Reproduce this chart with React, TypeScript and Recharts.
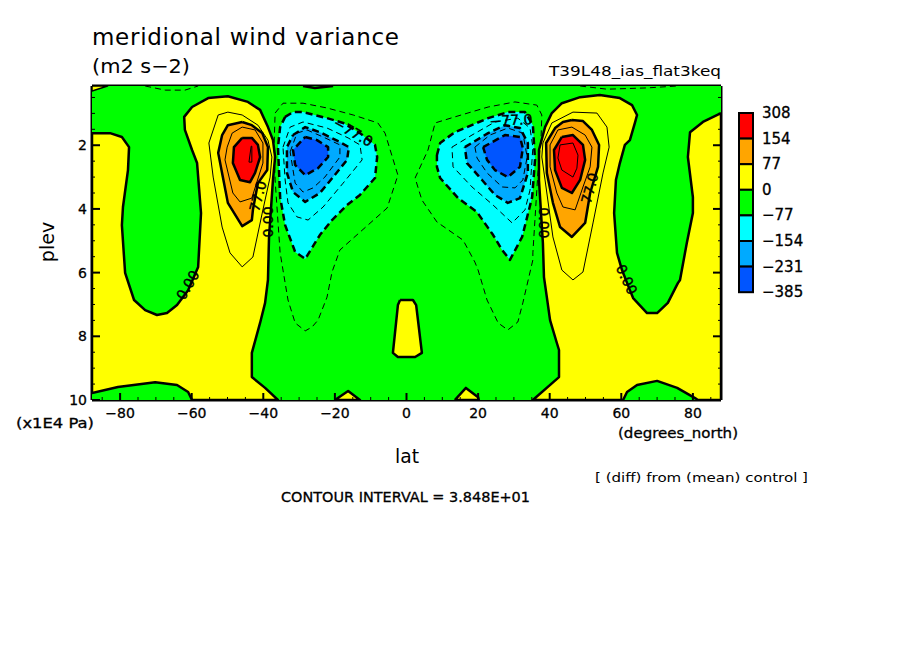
import React from "react";
import { ComposedChart, ReferenceDot, Scatter, XAxis, YAxis } from "recharts";

type Pair = [number, number];

const RED = "#ff0000";
const ORANGE = "#ffa500";
const YELLOW = "#ffff00";
const GREEN = "#00ff00";
const CYAN = "#00ffff";
const AZURE = "#00aaff";
const BLUE = "#0055ff";

const latDomain: Pair = [-87.85, 87.85];
const plevDomain: Pair = [0.14, 10];
const latTicks = [-85, -80, -75, -70, -65, -60, -55, -50, -45, -40, -35, -30, -25, -20, -15, -10, -5, 0, 5, 10, 15, 20, 25, 30, 35, 40, 45, 50, 55, 60, 65, 70, 75, 80, 85];
const plevTicks = [0.5, 1, 1.5, 2, 2.5, 3, 3.5, 4, 4.5, 5, 5.5, 6, 6.5, 7, 7.5, 8, 8.5, 9, 9.5];

const legendColors = [RED, ORANGE, YELLOW, GREEN, CYAN, AZURE, BLUE];
const legendLabels = ["308", "154", "77", "0", "−77", "−154", "−231", "−385"];

// filled regions, lat / plev pairs
const yellowWest: Pair[] = [[-87.85, 1.62], [-82.8, 1.62], [-79.5, 1.74], [-77.5, 2.06], [-77.8, 2.78], [-79.2, 3.94], [-79.5, 4.51], [-78.6, 6.01], [-76.1, 6.86], [-73, 7.18], [-69.7, 7.33], [-66.9, 7.27], [-64.1, 7.02], [-61, 6.55], [-58.2, 5.82], [-57.4, 4.13], [-58.5, 2.56], [-59.9, 2.15], [-61.9, 1.52], [-62.1, 1.11], [-59.9, 0.8], [-55.4, 0.52], [-49.9, 0.46], [-44.3, 0.64], [-40.9, 0.89], [-38.7, 1.43], [-37.3, 1.84], [-36.7, 2.37], [-37.3, 3.09], [-38.4, 4.88], [-38.7, 6.23], [-39.5, 6.95], [-40.9, 7.58], [-43.2, 8.52], [-43.2, 9.28], [-39.5, 9.62], [-35.9, 10], [-59.9, 10], [-61, 9.75], [-64.1, 9.53], [-70.2, 9.44], [-80.6, 9.59], [-87.85, 9.78]];
const yellowEast: Pair[] = [[87.85, 0.99], [82.8, 1.27], [79.2, 1.59], [78.6, 2.37], [80, 3.63], [80, 4.13], [78.3, 5.07], [76.4, 6.23], [75.8, 6.33], [73, 6.95], [70, 7.27], [67.2, 7.27], [63.3, 6.8], [62.4, 6.55], [60.2, 5.92], [58.8, 5.38], [58, 4.13], [58.5, 3.09], [59.6, 2.56], [61, 1.99], [62.4, 1.84], [63.8, 1.3], [64.4, 1.05], [63, 0.74], [59.6, 0.52], [54, 0.42], [48.5, 0.49], [43.4, 0.68], [40.6, 0.99], [38.7, 1.43], [37, 2.15], [37, 3.09], [38.1, 5.07], [38.4, 6.14], [39.2, 6.77], [40.1, 7.49], [42, 8.21], [42.6, 8.43], [42.6, 9.28], [35.3, 10], [60.5, 10], [61.6, 9.75], [64.4, 9.53], [70, 9.4], [75.6, 9.62], [80.6, 9.94], [81.4, 10], [87.85, 10]];
const yellowCorner: Pair[] = [[-87.85, 0.14], [-83.5, 0.14], [-87.85, 0.3]];
const yellowCentre: Pair[] = [[-1.8, 6.86], [1.8, 6.86], [2.7, 7.02], [4.3, 8.52], [2.4, 8.65], [-2.4, 8.65], [-3.8, 8.52], [-2.4, 7.02]];
const yellowSpikeWest: Pair[] = [[-20, 10], [-16.3, 9.72], [-13, 10]];
const yellowSpikeEast: Pair[] = [[13.5, 10], [16.6, 9.62], [20, 9.91], [20.2, 10]];

const orangeWest: Pair[] = [[-45.9, 1.27], [-49.9, 1.37], [-51.5, 1.68], [-52.6, 2.24], [-51.3, 3], [-49.9, 3.81], [-45.9, 4.54], [-43.2, 4.35], [-42.9, 4.03], [-41.5, 3.19], [-38.9, 2.78], [-38.7, 2.06], [-40.3, 1.62], [-43.2, 1.37]];
const orangeEast: Pair[] = [[46.2, 1.21], [49.3, 1.24], [51.8, 1.52], [53.8, 1.99], [53.5, 2.68], [51.3, 3.5], [49.9, 4.44], [46.2, 4.88], [42.9, 4.57], [40.9, 3.81], [39.2, 2.87], [39, 1.93], [41.5, 1.46], [43.7, 1.27]];
const redWest: Pair[] = [[-45.9, 1.77], [-43.2, 1.77], [-41.5, 1.99], [-40.9, 2.37], [-42.3, 2.87], [-43.7, 3.16], [-46.5, 3.09], [-48.5, 2.56], [-48.2, 2.06]];
const redEast: Pair[] = [[43.4, 1.74], [46.5, 1.68], [49.3, 1.99], [49.9, 2.46], [48.5, 3.09], [46.2, 3.5], [43.4, 3.34], [41.5, 2.78], [41.2, 2.15]];

const cyanWest: Pair[] = [[-33.9, 1.11], [-31.7, 0.96], [-28.9, 0.96], [-22.2, 1.15], [-17.7, 1.3], [-13, 1.62], [-8.8, 1.99], [-8.2, 2.37], [-8.8, 3.03], [-13, 3.56], [-16.6, 3.88], [-20.8, 4.35], [-24.2, 4.82], [-28.3, 5.57], [-31.1, 5.35], [-33.9, 4.51], [-35.3, 3.63], [-35.9, 2.06], [-35.3, 1.43]];
const cyanEast: Pair[] = [[8.5, 2.31], [9.4, 1.93], [13.5, 1.59], [22.8, 1.15], [28.3, 0.96], [33.1, 0.96], [35.3, 1.37], [35.9, 2.46], [35.1, 3.63], [32.3, 4.88], [28.9, 5.6], [26.7, 5.29], [24.2, 4.82], [19.7, 4.1], [14.4, 3.66], [9.4, 3.03], [8.5, 2.68]];
const azureWest: Pair[] = [[-31.7, 1.68], [-28.3, 1.43], [-24.2, 1.59], [-18.6, 1.9], [-16.1, 2.06], [-16.6, 2.46], [-20.5, 3], [-24.2, 3.5], [-28.3, 3.78], [-31.7, 3.47], [-33.4, 2.87], [-33.4, 2.06]];
const azureEast: Pair[] = [[16.3, 2.06], [22.8, 1.62], [27.5, 1.37], [31.7, 1.46], [33.9, 1.93], [33.9, 2.87], [31.7, 3.66], [28.3, 3.81], [24.7, 3.56], [21.1, 3.09], [16.9, 2.56]];
const blueWest: Pair[] = [[-28.3, 1.74], [-25, 1.84], [-21.9, 2.06], [-21.9, 2.37], [-24.7, 2.72], [-28.3, 2.94], [-31.1, 2.62], [-31.7, 2.15]];
const blueEast: Pair[] = [[21.4, 2.06], [27.5, 1.68], [31.7, 1.74], [32.5, 2.09], [31.7, 2.68], [28.3, 3], [24.7, 2.78], [22.5, 2.46]];

// thin in-between contours
const thinPosWest: Pair[][] = [
  [[-55.2, 1.93], [-52.6, 1.05], [-49.9, 0.96], [-45.9, 1.05], [-41.5, 1.37], [-38.7, 1.84], [-37.6, 2.37], [-38.1, 3], [-40.3, 4.13], [-42.9, 5.51], [-45.9, 5.82], [-49.3, 5.38], [-51.5, 4.57], [-54, 3]],
  [[-50.1, 2.06], [-48.7, 1.62], [-45.9, 1.43], [-42.3, 1.52], [-40.1, 1.93], [-40.1, 2.56], [-41.8, 3.16], [-43.2, 3.66], [-46.5, 3.78], [-48.5, 3.5], [-50.7, 2.46]],
  [[-43.4, 2.03], [-43.2, 2.03], [-43.2, 2.53], [-44, 2.53]],
];
const thinPosEast: Pair[][] = [
  [[38.1, 1.93], [40.6, 1.3], [46.5, 0.96], [53.2, 0.99], [56, 1.43], [56.6, 2.06], [54.9, 2.87], [52.1, 4.44], [49.3, 5.98], [46.5, 6.23], [43.4, 5.92], [40.9, 4.88], [38.7, 3.09], [37.8, 2.37]],
  [[40.1, 1.99], [42.3, 1.52], [46.2, 1.43], [49.9, 1.68], [51.8, 2.06], [51.3, 2.68], [49.3, 3.31], [47.1, 4.03], [43.7, 3.94], [42, 3.5], [40.1, 2.68]],
  [[42.9, 1.99], [46.5, 1.93], [47.9, 2.31], [47.6, 2.72], [46.5, 3], [43.4, 2.78], [42.3, 2.4]],
];
const thinNegWest: Pair[][] = [
  [[-36.7, 0.99], [-34.5, 0.68], [-28.9, 0.68], [-22.2, 0.83], [-14.9, 1.05], [-8, 1.3], [-6, 1.62], [-2.4, 2.94], [-5.4, 3.97], [-13, 4.73], [-18.6, 5.29], [-20.8, 5.98], [-22.2, 6.77], [-24.7, 7.49], [-26.4, 7.71], [-28.3, 7.83], [-31.1, 7.58], [-33.1, 6.86], [-34.5, 5.92], [-35.3, 5.38], [-36.7, 3.09], [-37, 2.06]],
  [[-34.5, 2.06], [-32.5, 1.43], [-28.9, 1.27], [-22.2, 1.46], [-16.3, 1.77], [-13, 1.99], [-12.4, 2.46], [-17.7, 3.19], [-23.3, 3.94], [-27.5, 4.35], [-30.6, 4.25], [-33.1, 3.81], [-33.9, 3.09]],
  [[-32.5, 2.21], [-30.6, 1.62], [-27.8, 1.52], [-23.3, 1.74], [-18.6, 1.99], [-18.6, 2.37], [-22.8, 3], [-26.1, 3.34], [-28.9, 3.47], [-31.1, 3.19]],
];
const thinNegEast: Pair[][] = [
  [[2.4, 3.03], [6, 2.15], [8, 1.3], [13.5, 1.11], [22.8, 0.8], [30.3, 0.64], [36.4, 0.74], [37.8, 1.05], [37.6, 1.74], [36.7, 2.87], [35.3, 5.38], [35.3, 5.6], [32.5, 6.95], [31.1, 7.55], [28.3, 7.8], [25.6, 7.58], [22.5, 6.86], [20, 5.92], [19.1, 5.67], [15.8, 4.98], [8.5, 4.41], [4.3, 3.72]],
  [[12.7, 2.06], [18.3, 1.68], [24.7, 1.27], [31.1, 1.15], [34.5, 1.46], [35.3, 2.06], [34.5, 3.41], [33.1, 4.03], [29.5, 4.44], [24.2, 3.88], [18.3, 3.31], [13, 2.68]],
  [[19.1, 2.06], [23.3, 1.68], [28.3, 1.46], [32.5, 1.62], [33.7, 2.37], [32.5, 3.09], [30.3, 3.34], [26.7, 3.31], [22.5, 2.87], [19.7, 2.4]],
];
const topDashWest: Pair[] = [[-73, 0.14], [-67.4, 0.27], [-61.9, 0.27], [-58.2, 0.14]];
const topDashEast: Pair[] = [[48.5, 0.14], [56, 0.24], [67.2, 0.2], [75.6, 0.14]];
const topThick: Pair[] = [[-28.9, 0.14], [-25.6, 0.2], [-20.5, 0.14]];

const contourLabels: { lat: number; plev: number; text: string; angle: number }[] = [
  { lat: -61.1, plev: 6.39, text: "0.00", angle: -60 },
  { lat: -38.7, plev: 4.41, text: "0.00", angle: -90 },
  { lat: -41.5, plev: 3.6, text: "77.0", angle: -75 },
  { lat: -14.9, plev: 1.59, text: "−77.0", angle: 30 },
  { lat: 29.2, plev: 1.21, text: "−77.0", angle: -3 },
  { lat: 51.2, plev: 3.35, text: "77.0", angle: -75 },
  { lat: 38.4, plev: 4.44, text: "0.00", angle: 90 },
  { lat: 61.5, plev: 6.22, text: "0.00", angle: 65 },
];

const FONT = "'DejaVu Sans', sans-serif";

const closed = (pairs: Pair[]) => [...pairs, pairs[0]].map(([lat, plev]) => ({ lat, plev }));

const hidden = () => <g />;

function contour(key: string, pairs: Pair[], opts: { fill?: string; width?: number; dash?: string; open?: boolean }) {
  const data = opts.open ? pairs.map(([lat, plev]) => ({ lat, plev })) : closed(pairs);
  return (
    <Scatter
      key={key}
      data={data}
      dataKey="plev"
      shape={hidden}
      isAnimationActive={false}
      line={{
        fill: opts.fill ?? "none",
        stroke: "#000",
        strokeWidth: opts.width ?? 1,
        strokeDasharray: opts.dash,
        strokeLinejoin: "round",
      }}
    />
  );
}

const latTick = (labelled: boolean) => (props: any) => {
  const { x, y, payload } = props;
  const major = payload.value % 20 === 0;
  const dir = labelled ? -1 : 1;
  return (
    <g>
      <line x1={x} x2={x} y1={y} y2={y + dir * (major ? 7 : 3)} stroke="#000" strokeWidth={major ? 2 : 1} />
      {labelled && major && (
        <text x={x} y={y + 18} textAnchor="middle" fontSize={14} fontFamily={FONT} fill="#000" stroke="#000" strokeWidth={0.3}>
          {String(payload.value).replace("-", "−")}
        </text>
      )}
    </g>
  );
};

const plevTick = (labelled: boolean) => (props: any) => {
  const { x, y, payload } = props;
  const major = payload.value % 2 === 0;
  const dir = labelled ? 1 : -1;
  return (
    <g>
      <line x1={x} x2={x + dir * (major ? 8 : 3)} y1={y} y2={y} stroke="#000" strokeWidth={major ? 2 : 1} />
      {labelled && major && (
        <text x={x - 5} y={y + 5} textAnchor="end" fontSize={14} fontFamily={FONT} fill="#000" stroke="#000" strokeWidth={0.3}>
          {payload.value}
        </text>
      )}
    </g>
  );
};

const contourText = (text: string, angle: number) => (props: any) => (
  <text
    x={props.cx}
    y={props.cy}
    transform={`rotate(${angle} ${props.cx} ${props.cy})`}
    textAnchor="middle"
    dominantBaseline="central"
    fontSize={14}
    fontFamily={FONT}
    fill="#000"
    stroke="#000"
    strokeWidth={0.4}
  >
    {text}
  </text>
);

const axisLine = { stroke: "#000", strokeWidth: 3 };

export default function App() {
  return (
    <div style={{ position: "absolute", left: 0, top: 0, width: 904, height: 654, background: "#fff" }}>
      <ComposedChart width={904} height={654} margin={{ top: 85, right: 182, bottom: 253, left: 91 }}>
        {contour("bg", [[latDomain[0], plevDomain[0]], [latDomain[1], plevDomain[0]], [latDomain[1], plevDomain[1]], [latDomain[0], plevDomain[1]]], { fill: GREEN, width: 0 })}
        {contour("yw", yellowWest, { fill: YELLOW, width: 2.5 })}
        {contour("ye", yellowEast, { fill: YELLOW, width: 2.5 })}
        {contour("yk", yellowCorner, { fill: YELLOW, width: 1.5 })}
        {contour("yc", yellowCentre, { fill: YELLOW, width: 2.5 })}
        {contour("ysw", yellowSpikeWest, { fill: YELLOW, width: 2.5 })}
        {contour("yse", yellowSpikeEast, { fill: YELLOW, width: 2.5 })}
        {contour("ow", orangeWest, { fill: ORANGE, width: 2.5 })}
        {contour("oe", orangeEast, { fill: ORANGE, width: 2.5 })}
        {contour("rw", redWest, { fill: RED, width: 2.5 })}
        {contour("re", redEast, { fill: RED, width: 2.5 })}
        {contour("cw", cyanWest, { fill: CYAN, width: 2.5, dash: "7 4" })}
        {contour("ce", cyanEast, { fill: CYAN, width: 2.5, dash: "7 4" })}
        {contour("aw", azureWest, { fill: AZURE, width: 2.5, dash: "7 4" })}
        {contour("ae", azureEast, { fill: AZURE, width: 2.5, dash: "7 4" })}
        {contour("bw", blueWest, { fill: BLUE, width: 2.5, dash: "7 4" })}
        {contour("be", blueEast, { fill: BLUE, width: 2.5, dash: "7 4" })}
        {thinPosWest.map((p, i) => contour(`tpw${i}`, p, {}))}
        {thinPosEast.map((p, i) => contour(`tpe${i}`, p, {}))}
        {thinNegWest.map((p, i) => contour(`tnw${i}`, p, { dash: "6 4" }))}
        {thinNegEast.map((p, i) => contour(`tne${i}`, p, { dash: "6 4" }))}
        {contour("tdw", topDashWest, { dash: "6 4", open: true })}
        {contour("tde", topDashEast, { dash: "6 4", open: true })}
        {contour("tt", topThick, { width: 2.5, open: true })}

        {contourLabels.map((l, i) => (
          <ReferenceDot key={i} x={l.lat} y={l.plev} r={3} ifOverflow="visible" shape={contourText(l.text, l.angle)} />
        ))}

        <XAxis xAxisId={0} dataKey="lat" type="number" domain={latDomain} ticks={latTicks} interval={0} allowDataOverflow height={1} tickSize={0} tickMargin={0} tickLine={false} axisLine={axisLine} tick={latTick(true)} />
        <XAxis xAxisId="top" orientation="top" type="number" domain={latDomain} ticks={latTicks} interval={0} allowDataOverflow height={1} tickSize={0} tickMargin={0} tickLine={false} axisLine={axisLine} tick={latTick(false)} />
        <YAxis yAxisId={0} dataKey="plev" type="number" domain={plevDomain} reversed ticks={[...plevTicks, 10]} interval={0} allowDataOverflow width={1} tickSize={0} tickMargin={0} tickLine={false} axisLine={axisLine} tick={plevTick(true)} />
        <YAxis yAxisId="right" orientation="right" type="number" domain={plevDomain} reversed ticks={plevTicks} interval={0} allowDataOverflow width={1} tickSize={0} tickMargin={0} tickLine={false} axisLine={axisLine} tick={plevTick(false)} />
      </ComposedChart>

      <svg width={904} height={654} style={{ position: "absolute", left: 0, top: 0, pointerEvents: "none" }} fontFamily={FONT} fill="#000">
        <text x={92} y={45} fontSize={23} textLength={307} lengthAdjust="spacing">meridional wind variance</text>
        <text x={92} y={73} fontSize={20} textLength={98} lengthAdjust="spacingAndGlyphs">(m2 s−2)</text>
        <text x={549} y={76} fontSize={14} textLength={172} lengthAdjust="spacingAndGlyphs">T39L48_ias_flat3keq</text>
        <text x={16} y={428} fontSize={14} textLength={78} lengthAdjust="spacingAndGlyphs" stroke="#000" strokeWidth={0.3}>(x1E4 Pa)</text>
        <text x={618} y={438} fontSize={14} textLength={120} lengthAdjust="spacingAndGlyphs" stroke="#000" strokeWidth={0.3}>(degrees_north)</text>
        <text x={395} y={463} fontSize={20} textLength={24} lengthAdjust="spacingAndGlyphs">lat</text>
        <text x={595} y={482} fontSize={13} textLength={213} lengthAdjust="spacingAndGlyphs">[ (diff) from (mean) control ]</text>
        <text x={281} y={502} fontSize={14} textLength={249} lengthAdjust="spacingAndGlyphs" stroke="#000" strokeWidth={0.3}>CONTOUR INTERVAL = 3.848E+01</text>
        <text x={0} y={0} fontSize={19} textAnchor="middle" transform="translate(54 242) rotate(-90)">plev</text>
        {legendColors.map((c, i) => {
          const top = 113 + i * 25.6;
          return <rect key={c} x={739} y={top} width={14} height={25.6} fill={c} stroke="#000" strokeWidth={2} />;
        })}
        {legendLabels.map((t, i) => (
          <text key={t} x={762} y={118 + i * 25.6} fontSize={15} stroke="#000" strokeWidth={0.3}>{t}</text>
        ))}
      </svg>
    </div>
  );
}
